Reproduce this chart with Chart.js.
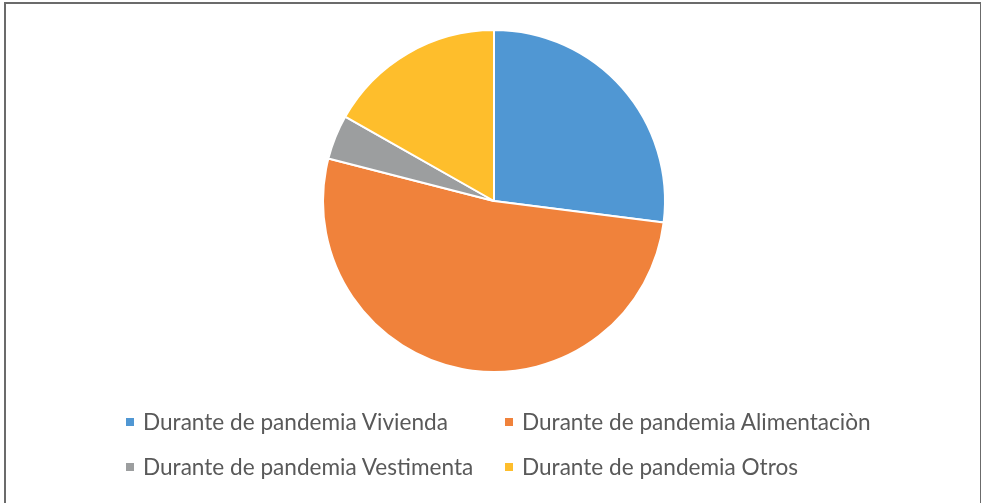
<!DOCTYPE html>
<html>
<head>
<meta charset="utf-8">
<script src="https://cdn.jsdelivr.net/npm/chart.js@4.4.0/dist/chart.umd.min.js"></script>
<style>
  html, body { margin: 0; padding: 0; background: #fff; }
  #wrap { position: relative; width: 983px; height: 503px; overflow: hidden; }
  #frame { position: absolute; left: 4px; top: 2px; width: 977px; height: 520px;
           border: 1px solid #6b6b6b; border-left-width: 2px; border-top-width: 2px; box-sizing: border-box; }
  #pie { position: absolute; left: 0; top: 0; }
  .leg { position: absolute; font-family: Lato, "Open Sans", sans-serif; font-size: 22.6px; color: #595959;
         white-space: nowrap; line-height: 26px; }
  .leg span.box { display: inline-block; width: 8px; height: 8px; margin-right: 9px; vertical-align: 4px; }
</style>
</head>
<body>
<div id="wrap">
  <div id="frame"></div>
  <canvas id="pie" width="983" height="503"></canvas>
  <div id="legend"></div>
</div>
<script>
var categorias = ['Durante de pandemia Vivienda', 'Durante de pandemia Alimentaciòn',
                  'Durante de pandemia Vestimenta', 'Durante de pandemia Otros'];
var valores = [27, 52, 4.2, 16.8];
var colores = ['#5097D3', '#F0823B', '#9C9E9F', '#FEBE2C'];

var charts = {};

function renderPie(canvasId) {
    var ctx = document.getElementById(canvasId);
    if (!ctx) return;
    charts[canvasId] = new Chart(ctx, {
        type: 'pie',
        data: {
            labels: categorias,
            datasets: [{ data: valores, backgroundColor: colores, borderColor: '#ffffff', borderWidth: 2 }]
        },
        options: {
            responsive: false,
            animation: false,
            layout: { padding: { left: 322, right: 317, top: 29, bottom: 130 } },
            plugins: { legend: { display: false }, tooltip: { enabled: false } }
        }
    });
}

function renderLegend() {
    var pos = [[126, 409], [505, 409], [126, 454], [505, 454]];
    var html = '';
    for (var i = 0; i < categorias.length; i++) {
        html += '<div class="leg" style="left:' + pos[i][0] + 'px;top:' + pos[i][1] + 'px">' +
                '<span class="box" style="background:' + colores[i] + '"></span>' + categorias[i] + '</div>';
    }
    document.getElementById('legend').innerHTML = html;
}

renderPie('pie');
renderLegend();
</script>
</body>
</html>
